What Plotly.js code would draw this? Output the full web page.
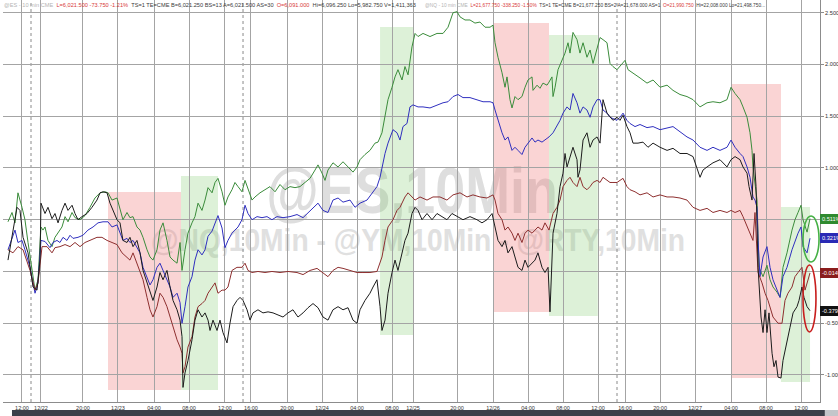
<!DOCTYPE html>
<html><head><meta charset="utf-8">
<script src="https://cdn.plot.ly/plotly-3.0.1.min.js"></script>
<style>
html,body{margin:0;padding:0;background:#fff;overflow:hidden}
#wrap{position:relative;width:838px;height:416px}
#chart{position:absolute;left:0;top:0;width:838px;height:416px;z-index:1}
.wm{position:absolute;z-index:0;white-space:nowrap;line-height:1;font-family:"Liberation Sans",Arial,sans-serif;font-weight:700}
</style>
</head><body><div id="wrap"><div id="wmMain" class="wm"></div><div id="wmSub" class="wm"></div><div id="chart"></div></div>
<script>
// x = trading hours elapsed on the compressed session axis, y = % change
const tickHours = [2.17,4.34,9.14,13.14,17.26,21.26,25.37,28.34,32.46,36.46,40.46,44.46,46.86,51.89,56.00,60.00,64.00,68.00,71.09,75.09,79.09,83.20,87.20,91.20];
const tickLabels = ["12:00","12/22","20:00","12/23","04:00","08:00","12:00","16:00","20:00","12/24","04:00","08:00","12/25","20:00","12/26","04:00","08:00","12:00","16:00","20:00","12/27","04:00","08:00","12:00"];
const sessionBreaks = [3.2, 27.43, 70.17];
const pctTicks = [-1, -0.5, 0, 0.5, 1, 1.5, 2, 2.5];
// 0.000% and 0.500% sit under the last-value flags in the reference
const pctLabels = ["-1.000%","-0.500%","","","1.000%","1.500%","2.000%","2.500%"];

const seriesNames = ["@ES","@NQ","@YM","@RTY"];
const lastValues = [0.511, 0.321, -0.014, -0.379];
const lastLabels = ["0.511%","0.321%","-0.014%","-0.379%"];

// [start h, end h, low %, high %]
const redZones = [[12.00,20.34,-1.145,0.768],[56.00,62.40,-0.391,2.401],[83.20,88.91,-1.029,1.812]];
const greenZones = [[20.34,24.57,-1.145,0.923],[43.09,46.97,-0.614,2.362],[62.40,67.97,-0.430,2.285],[88.91,92.23,-1.068,0.623]];
const greenRing = [91.43,93.26,0.092,0.536];
const redRing = [91.43,92.91,-0.585,0.063];

const headerES = ["@ES - 10 min CME","L=6,021.500 -73.750 -1.21%","TS=1 TE=CME B=6,021.250 BS=13 A=6,021.500 AS=30","O=6,091.000","Hi=6,096.250 Lo=5,982.750 V=1,411,363"];
const headerNQ = ["@NQ - 10 min CME","L=21,677.750 -338.250 -1.50%","TS=1 TE=CME B=21,677.250 BS=2 A=21,678.000 AS=1","O=21,990.750","Hi=22,008.000 Lo=21,498.750..."];
const headerColors = ["#b4b4b4","#d83a3a","#3a3a3a","#d83a3a","#3a3a3a"];
const watermarkMain = "@ES,10Min";
const watermarkSub = "@NQ,10Min - @YM,10Min - @RTY,10Min";

const greenPts = [[0.57,0.48],[1.03,0.57],[1.37,0.47],[1.71,0.76],[2.17,0.62],[2.51,0.50],[2.86,0.28],[3.31,0.01],[3.66,-0.18],[4.00,-0.08],
[4.34,0.43],[4.57,0.40],[4.80,0.43],[5.14,0.30],[5.60,0.24],[5.94,0.33],[6.29,0.37],[6.74,0.43],[7.09,0.53],[7.43,0.48],
[7.89,0.57],[8.23,0.52],[8.80,0.50],[9.37,0.54],[9.94,0.62],[10.51,0.71],[11.09,0.76],[11.66,0.77],[12.00,0.76],[12.46,0.69],
[13.03,0.71],[13.37,0.59],[13.71,0.50],[14.17,0.57],[14.51,0.52],[14.86,0.53],[15.31,0.43],[15.66,0.40],[16.00,0.33],[16.46,0.21],
[16.80,0.14],[17.14,0.11],[17.60,0.21],[17.94,0.40],[18.29,0.47],[18.74,0.30],[19.09,0.14],[19.43,0.11],[19.89,0.08],[20.23,0.28],
[20.46,0.01],[20.80,0.21],[21.14,0.37],[21.60,0.47],[21.94,0.53],[22.29,0.66],[22.74,0.59],[23.09,0.69],[23.43,0.81],[23.89,0.76],
[24.23,0.86],[24.57,0.90],[25.03,0.77],[25.37,0.64],[25.71,0.72],[26.17,0.79],[26.51,0.86],[26.86,0.82],[27.31,0.77],[27.66,0.88],
[28.00,0.79],[28.46,0.69],[28.80,0.72],[29.37,0.76],[29.94,0.79],[30.51,0.82],[31.09,0.77],[31.66,0.84],[32.23,0.79],[32.80,0.82],
[33.37,0.81],[33.94,0.82],[34.51,0.86],[35.09,0.90],[35.66,0.98],[36.00,1.03],[36.46,0.95],[36.80,0.88],[37.14,0.98],[37.71,1.05],
[38.29,1.01],[38.86,1.06],[39.43,1.01],[40.00,0.96],[40.46,1.01],[40.80,1.08],[41.37,1.13],[41.94,1.17],[42.51,1.24],[42.86,1.25],
[43.31,1.34],[43.66,1.49],[44.00,1.66],[44.46,1.78],[44.80,1.88],[45.14,1.95],[45.60,1.85],[45.94,1.98],[46.29,1.90],[46.74,2.17],
[47.09,2.30],[47.43,2.27],[48.00,2.30],[48.80,2.27],[49.60,2.30],[50.29,2.30],[50.86,2.36],[51.43,2.50],[51.89,2.51],[52.23,2.46],
[52.80,2.43],[53.37,2.43],[53.94,2.40],[54.51,2.41],[55.09,2.36],[55.66,2.36],[56.00,2.38],[56.23,2.21],[56.57,2.07],[57.03,1.92],
[57.37,1.78],[57.60,1.88],[57.94,1.66],[58.17,1.58],[58.51,1.69],[58.86,1.66],[59.31,1.69],[59.66,1.78],[60.00,1.85],[60.46,1.88],
[60.57,1.75],[61.03,1.80],[61.37,1.77],[61.71,1.82],[62.17,1.80],[62.40,1.83],[62.74,1.88],[62.86,1.69],[63.09,1.78],[63.43,1.95],
[63.89,2.04],[64.23,2.11],[64.57,2.21],[64.80,2.11],[65.14,2.31],[65.60,2.24],[65.94,2.11],[66.29,2.21],[66.74,2.07],[67.09,2.14],
[67.43,2.01],[67.89,2.14],[68.23,2.26],[68.57,2.24],[69.03,2.21],[69.37,2.01],[69.71,1.98],[70.17,1.95],[70.51,1.98],[71.09,2.04],
[71.43,1.95],[72.00,1.92],[72.80,1.87],[73.60,1.82],[74.29,1.85],[75.09,1.78],[75.89,1.80],[76.57,1.75],[77.37,1.71],[78.17,1.69],
[78.86,1.66],[79.66,1.59],[80.46,1.63],[81.14,1.64],[81.94,1.63],[82.74,1.66],[83.20,1.78],[83.66,1.72],[84.23,1.66],[84.57,1.59],
[85.03,1.49],[85.37,1.34],[85.60,1.17],[85.71,1.01],[86.17,0.69],[86.29,0.37],[86.40,0.04],[86.86,-0.05],[87.31,0.06],[87.66,-0.08],
[88.00,-0.15],[88.46,-0.20],[88.80,-0.25],[89.14,0.04],[89.60,0.18],[90.17,0.40],[90.51,0.50],[90.86,0.57],[91.20,0.64],[91.43,0.50],
[91.89,0.38],[92.23,0.511]];

const bluePts = [[0.57,0.21],[1.03,0.33],[1.37,0.40],[1.71,0.28],[2.17,0.30],[2.51,0.21],[3.09,0.04],[3.66,-0.21],[4.00,-0.11],[4.34,0.30],
[4.80,0.29],[5.37,0.23],[5.71,0.28],[6.17,0.30],[6.51,0.28],[6.86,0.33],[7.31,0.30],[7.66,0.35],[8.00,0.32],[8.57,0.33],
[9.14,0.35],[9.71,0.40],[10.29,0.43],[10.86,0.47],[11.43,0.48],[12.00,0.48],[12.46,0.43],[13.03,0.45],[13.37,0.38],[13.71,0.30],
[14.17,0.32],[14.51,0.28],[14.86,0.30],[15.31,0.24],[15.66,0.18],[16.00,0.04],[16.46,-0.05],[16.80,-0.13],[17.14,-0.08],[17.60,0.04],
[17.94,0.08],[18.29,0.01],[18.74,-0.08],[19.09,-0.15],[19.43,-0.25],[19.89,-0.21],[20.23,-0.30],[20.46,-0.50],[20.80,-0.34],[21.14,-0.15],
[21.60,-0.05],[21.94,0.11],[22.29,0.21],[22.74,0.16],[23.09,0.21],[23.43,0.34],[23.89,0.39],[24.23,0.46],[24.57,0.54],[25.03,0.42],
[25.37,0.23],[25.71,0.30],[26.17,0.37],[26.51,0.40],[26.86,0.43],[27.31,0.50],[27.66,0.64],[28.00,0.56],[28.46,0.50],[29.03,0.53],
[29.60,0.52],[30.17,0.53],[30.74,0.50],[31.31,0.53],[32.00,0.52],[32.80,0.53],[33.60,0.55],[34.29,0.52],[34.86,0.57],[35.43,0.62],
[36.00,0.66],[36.57,0.59],[37.14,0.57],[37.71,0.69],[38.29,0.71],[38.86,0.67],[39.66,0.69],[40.23,0.62],[40.80,0.66],[41.60,0.69],
[42.17,0.76],[42.74,0.82],[43.09,0.91],[43.31,1.01],[43.66,1.14],[44.00,1.24],[44.57,1.37],[45.03,1.34],[45.37,1.27],[45.71,1.40],
[46.17,1.43],[46.51,1.59],[46.86,1.61],[47.43,1.59],[48.00,1.59],[48.80,1.58],[49.60,1.61],[50.29,1.63],[50.86,1.64],[51.43,1.69],
[52.00,1.71],[52.57,1.68],[53.37,1.68],[54.17,1.66],[54.86,1.64],[55.66,1.64],[56.00,1.63],[56.23,1.56],[56.57,1.46],[57.03,1.34],
[57.37,1.27],[57.71,1.30],[58.17,1.17],[58.51,1.20],[58.86,1.17],[59.31,1.13],[59.66,1.20],[60.00,1.24],[60.46,1.29],[60.80,1.25],
[61.14,1.27],[61.60,1.25],[61.94,1.27],[62.40,1.30],[62.86,1.34],[63.31,1.40],[63.66,1.46],[64.00,1.53],[64.46,1.59],[64.80,1.56],
[65.14,1.72],[65.60,1.63],[65.94,1.53],[66.29,1.59],[66.74,1.56],[67.09,1.49],[67.43,1.59],[67.89,1.66],[68.23,1.66],[68.57,1.56],
[69.03,1.53],[69.37,1.49],[69.71,1.48],[70.17,1.46],[70.51,1.49],[70.86,1.53],[71.31,1.46],[71.66,1.43],[72.23,1.40],[72.80,1.42],
[73.60,1.39],[74.29,1.40],[75.09,1.37],[75.89,1.39],[76.57,1.40],[77.37,1.35],[78.17,1.30],[78.86,1.27],[79.66,1.20],[80.46,1.17],
[81.14,1.20],[81.94,1.17],[82.74,1.20],[83.20,1.27],[83.66,1.20],[84.23,1.14],[84.57,1.11],[85.03,1.01],[85.37,0.91],[85.71,0.72],
[85.94,0.69],[86.17,0.62],[86.29,0.30],[86.51,-0.05],[86.86,0.14],[87.31,0.24],[87.66,0.04],[88.00,-0.08],[88.46,-0.18],[88.80,-0.25],
[89.14,-0.05],[89.60,0.04],[90.17,0.21],[90.51,0.30],[90.86,0.37],[91.20,0.43],[91.43,0.24],[91.89,0.18],[92.23,0.321]];

const brownPts = [[0.57,0.21],[1.14,0.18],[1.71,0.24],[2.29,0.21],[3.09,0.01],[3.66,-0.18],[4.00,-0.11],[4.46,0.24],[5.03,0.24],[5.60,0.18],
[5.94,0.23],[6.51,0.24],[7.09,0.26],[7.66,0.24],[8.23,0.28],[8.80,0.24],[9.37,0.28],[9.94,0.30],[10.74,0.33],[11.31,0.33],
[11.89,0.30],[12.46,0.28],[13.03,0.26],[13.60,0.18],[14.17,0.14],[14.51,0.11],[14.86,0.18],[15.31,0.08],[15.66,0.01],[16.00,-0.08],
[16.46,-0.25],[16.80,-0.37],[17.14,-0.44],[17.60,-0.34],[17.94,-0.21],[18.29,-0.25],[18.74,-0.34],[19.09,-0.44],[19.43,-0.54],[19.89,-0.66],
[20.23,-0.73],[20.46,-0.79],[20.57,-0.98],[20.80,-0.92],[21.14,-0.73],[21.60,-0.63],[21.94,-0.44],[22.29,-0.34],[22.74,-0.31],[23.09,-0.28],
[23.43,-0.21],[23.89,-0.15],[24.23,-0.11],[24.57,-0.21],[25.03,-0.18],[25.37,-0.18],[25.71,-0.15],[26.17,0.01],[26.74,0.04],[27.31,0.04],
[27.66,0.08],[28.00,0.01],[28.46,-0.01],[29.14,0.00],[29.94,-0.01],[30.74,0.00],[31.66,-0.01],[32.57,0.00],[33.60,-0.01],[34.29,-0.03],
[35.09,0.01],[35.89,0.03],[36.57,-0.01],[37.14,-0.05],[37.71,0.01],[38.29,0.04],[38.86,0.03],[39.66,0.01],[40.46,-0.01],[41.14,-0.01],
[41.94,-0.01],[42.74,0.00],[43.09,0.08],[43.31,0.14],[43.66,0.30],[44.00,0.43],[44.57,0.50],[45.03,0.59],[45.37,0.62],[45.94,0.72],
[46.29,0.76],[46.74,0.72],[47.09,0.69],[47.66,0.72],[48.46,0.69],[49.14,0.72],[49.94,0.72],[50.74,0.69],[51.43,0.74],[52.23,0.76],
[53.03,0.72],[53.71,0.74],[54.51,0.72],[55.31,0.71],[56.00,0.74],[56.23,0.69],[56.57,0.56],[57.03,0.50],[57.37,0.40],[57.71,0.43],
[58.17,0.37],[58.51,0.30],[58.86,0.37],[59.31,0.28],[59.66,0.37],[60.00,0.40],[60.46,0.37],[60.80,0.40],[61.14,0.43],[61.60,0.40],
[61.94,0.47],[62.40,0.40],[62.86,0.56],[63.31,0.62],[63.66,0.69],[64.00,0.82],[64.46,0.88],[64.80,0.91],[65.14,0.86],[65.60,0.82],
[65.94,0.91],[66.29,0.82],[66.74,0.79],[67.09,0.82],[67.43,0.86],[67.89,0.88],[68.23,0.86],[68.57,0.91],[69.03,0.88],[69.37,0.86],
[69.71,0.86],[70.17,0.86],[70.51,0.88],[70.86,0.90],[71.31,0.82],[71.66,0.79],[72.23,0.77],[72.80,0.74],[73.60,0.76],[74.29,0.72],
[75.09,0.74],[75.89,0.72],[76.57,0.72],[77.37,0.71],[78.17,0.69],[78.86,0.62],[79.66,0.59],[80.46,0.61],[81.14,0.57],[81.94,0.59],
[82.74,0.57],[83.20,0.59],[83.66,0.57],[84.23,0.59],[84.57,0.53],[85.03,0.43],[85.37,0.37],[85.71,0.30],[85.94,0.57],[86.17,0.24],
[86.29,-0.01],[86.74,-0.11],[87.09,-0.21],[87.43,-0.28],[88.00,-0.44],[88.57,-0.50],[89.03,-0.50],[89.37,-0.28],[89.71,-0.21],[90.17,-0.15],
[90.51,-0.05],[90.86,-0.01],[91.31,0.04],[91.66,-0.18],[92.00,-0.08],[92.23,-0.014]];

const blackPts = [[0.57,0.11],[1.03,0.33],[1.60,0.62],[1.94,0.59],[2.29,0.33],[2.86,0.18],[3.43,-0.15],[3.89,-0.18],[4.23,0.11],[4.34,0.66],
[4.80,0.56],[5.14,0.62],[5.60,0.51],[5.94,0.56],[6.29,0.47],[6.74,0.59],[7.09,0.66],[7.43,0.59],[7.89,0.64],[8.23,0.56],
[8.57,0.50],[9.03,0.53],[9.60,0.56],[10.17,0.62],[10.74,0.69],[11.09,0.76],[11.43,0.77],[11.89,0.76],[12.23,0.66],[13.03,0.50],
[13.37,0.47],[13.71,0.30],[14.17,0.28],[14.51,0.33],[14.86,0.24],[15.31,0.30],[15.66,0.18],[16.00,0.01],[16.46,-0.11],[16.80,-0.18],
[17.14,-0.28],[17.60,-0.15],[17.94,-0.01],[18.29,-0.08],[18.74,0.01],[19.09,-0.15],[19.43,-0.28],[19.89,-0.37],[20.23,-0.47],[20.46,-0.63],
[20.57,-1.12],[20.80,-0.98],[21.14,-0.86],[21.60,-0.66],[21.94,-0.47],[22.29,-0.37],[22.74,-0.44],[23.09,-0.40],[23.43,-0.47],[23.66,-0.57],
[24.00,-0.47],[24.46,-0.57],[24.80,-0.47],[25.14,-0.59],[25.60,-0.69],[25.94,-0.50],[26.29,-0.34],[26.74,-0.28],[27.09,-0.25],[27.43,-0.28],
[27.89,-0.37],[28.23,-0.47],[28.57,-0.40],[29.14,-0.37],[29.71,-0.40],[30.29,-0.39],[30.86,-0.40],[31.43,-0.42],[32.00,-0.44],[32.57,-0.40],
[33.14,-0.37],[33.71,-0.44],[34.29,-0.40],[34.86,-0.35],[35.43,-0.31],[36.00,-0.35],[36.57,-0.44],[37.14,-0.47],[37.71,-0.37],[38.29,-0.34],
[38.86,-0.37],[39.43,-0.35],[40.00,-0.47],[40.46,-0.50],[40.80,-0.37],[41.37,-0.28],[41.94,-0.21],[42.29,-0.15],[42.74,-0.08],[43.09,-0.34],
[43.31,-0.57],[43.66,-0.47],[44.00,-0.21],[44.46,-0.01],[44.80,0.11],[45.14,0.01],[45.60,0.18],[45.94,0.30],[46.29,0.37],[46.74,0.56],
[47.09,0.62],[47.43,0.59],[47.89,0.50],[48.46,0.56],[49.03,0.50],[49.60,0.56],[50.17,0.53],[50.74,0.50],[51.31,0.56],[51.89,0.53],
[52.57,0.50],[53.37,0.53],[54.17,0.50],[54.74,0.47],[55.31,0.50],[55.89,0.56],[56.23,0.43],[56.57,0.30],[57.03,0.24],[57.37,0.30],
[57.71,0.18],[58.17,0.24],[58.51,0.14],[58.86,0.04],[59.31,0.01],[59.66,0.11],[60.00,0.04],[60.46,0.08],[60.80,0.11],[61.14,0.18],
[61.60,0.04],[61.94,-0.01],[62.29,0.04],[62.51,-0.39],[62.74,0.04],[62.86,0.37],[63.31,0.56],[63.66,0.82],[64.00,0.95],[64.23,1.14],
[64.46,1.01],[64.80,1.11],[65.14,1.20],[65.60,1.08],[65.71,0.91],[65.94,0.98],[66.29,1.27],[66.74,1.34],[67.09,1.20],[67.43,1.27],
[67.89,1.30],[68.23,1.24],[68.46,1.49],[68.57,1.66],[69.03,1.53],[69.37,1.49],[69.71,1.46],[70.17,1.49],[70.51,1.46],[70.86,1.51],
[71.31,1.40],[71.66,1.34],[72.00,1.24],[72.57,1.24],[73.14,1.25],[73.71,1.20],[74.29,1.24],[75.09,1.20],[75.89,1.17],[76.57,1.19],
[77.37,1.14],[78.17,1.14],[78.86,1.11],[79.66,0.91],[80.00,0.98],[80.46,1.01],[81.14,1.05],[81.94,1.08],[82.74,1.01],[83.20,1.08],
[83.66,1.11],[84.23,1.08],[84.57,1.01],[85.03,0.95],[85.26,0.82],[85.60,0.69],[85.83,1.14],[86.06,0.82],[86.29,0.04],[86.63,-0.44],
[86.86,-0.59],[87.09,-0.37],[87.31,-0.59],[87.54,-0.40],[87.89,-0.79],[88.11,-0.92],[88.34,-0.86],[88.57,-1.02],[88.91,-1.03],[89.14,-0.86],
[89.60,-0.66],[89.94,-0.54],[90.29,-0.40],[90.74,-0.34],[90.97,-0.28],[91.31,-0.15],[91.54,-0.25],[91.89,-0.34],[92.23,-0.379]];

const seriesPts = [greenPts, bluePts, brownPts, blackPts];
const seriesColors = ["#3b8c3b","#2f2fbf","#8e2f2f","#1c1c1c"];
const labelColors = ["#2f8a2f","#2a2ab5","#8a1c1c","#111111"];

const FONT = "Liberation Sans, Arial, sans-serif";

// watermark (real text, behind the transparent plot)
const wm1 = document.getElementById("wmMain");
wm1.textContent = watermarkMain;
Object.assign(wm1.style, {left:"412px", top:"191px", fontSize:"64px", color:"#dedede", transform:"translate(-50%,-50%) scaleX(0.84)"});
const wm2 = document.getElementById("wmSub");
wm2.textContent = watermarkSub;
Object.assign(wm2.style, {left:"418px", top:"240px", fontSize:"31px", color:"#e0e0e0", transform:"translate(-50%,-50%) scaleX(0.91)"});

const traces = seriesPts.map((pts, i) => ({
  type: "scatter", mode: "lines", name: seriesNames[i],
  x: pts.map(p => p[0]), y: pts.map(p => p[1]),
  line: {color: seriesColors[i], width: 1}, hoverinfo: "skip"
}));

const shapes = [];
redZones.forEach(z => shapes.push({type:"rect", xref:"x", yref:"y", x0:z[0], x1:z[1], y0:z[2], y1:z[3], fillcolor:"rgba(240,120,120,0.32)", line:{width:0}, layer:"below"}));
greenZones.forEach(z => shapes.push({type:"rect", xref:"x", yref:"y", x0:z[0], x1:z[1], y0:z[2], y1:z[3], fillcolor:"rgba(120,200,100,0.25)", line:{width:0}, layer:"below"}));
sessionBreaks.forEach(h => shapes.push({type:"line", xref:"x", yref:"paper", x0:h, x1:h, y0:0, y1:1, line:{color:"#8a8a8a", width:1, dash:"dot"}, layer:"below"}));
shapes.push({type:"circle", xref:"x", yref:"y", x0:greenRing[0], x1:greenRing[1], y0:greenRing[2], y1:greenRing[3], line:{color:"#45b045", width:1.6}, layer:"above"});
shapes.push({type:"circle", xref:"x", yref:"y", x0:redRing[0], x1:redRing[1], y0:redRing[2], y1:redRing[3], line:{color:"#c81e1e", width:1.6}, layer:"above"});
shapes.push({type:"rect", xref:"paper", yref:"paper", x0:0.011, x1:1.006, y0:-0.0348, y1:-0.0199, fillcolor:"#3b404a", line:{width:0}, layer:"above"});
shapes.push({type:"rect", xref:"paper", yref:"paper", x0:1.006, x1:1.03, y0:-0.0348, y1:-0.0199, fillcolor:"#c4c6ca", line:{width:0}, layer:"above"});

const PW = 817, L = 3, PH = 402;
function headerHtml(parts){
  return parts.map((t, i) => '<span style="color:' + headerColors[i] + '">' + t + '</span>').join('&nbsp;&nbsp;');
}
const annotations = [
  {text: headerHtml(headerES), xref:"paper", yref:"paper", x:(2-L)/PW, y:1-5/PH, xanchor:"left", yanchor:"middle", showarrow:false, font:{family:FONT, size:5.65}},
  {text: headerHtml(headerNQ), xref:"paper", yref:"paper", x:(423-L)/PW, y:1-5/PH, xanchor:"left", yanchor:"middle", showarrow:false, font:{family:FONT, size:4.8}}
];
lastValues.forEach((v, i) => annotations.push({
  text: lastLabels[i], xref:"paper", yref:"y", x:1.0, y:v, xanchor:"left", yanchor:"middle", showarrow:false,
  bgcolor: labelColors[i], bordercolor: labelColors[i], borderpad:1, font:{family:FONT, size:5.6, color:"#ffffff"}
}));

const layout = {
  width: 838, height: 416,
  margin: {l: L, r: 838-L-PW, t: 0, b: 416-PH},
  paper_bgcolor: "rgba(0,0,0,0)", plot_bgcolor: "rgba(0,0,0,0)",
  showlegend: false,
  font: {family: FONT, color: "#333"},
  xaxis: {range:[0, 93.37], tickmode:"array", tickvals:tickHours, ticktext:tickLabels, showgrid:true, gridcolor:"#a4a4a4", gridwidth:1,
    zeroline:false, showline:true, linecolor:"#8c8c8c", linewidth:1, ticks:"", tickfont:{size:5.5, color:"#333"}, automargin:false, fixedrange:true},
  yaxis: {side:"right", range:[-1.261, 2.623], tickmode:"array", tickvals:pctTicks, ticktext:pctLabels, showgrid:true, gridcolor:"#a4a4a4", gridwidth:1,
    zeroline:false, showline:true, linecolor:"#8c8c8c", linewidth:1, ticks:"outside", ticklen:3, tickcolor:"#8c8c8c",
    tickfont:{size:5.6, color:"#333"}, automargin:false, fixedrange:true},
  shapes: shapes, annotations: annotations
};
Plotly.newPlot("chart", traces, layout, {staticPlot:true, displayModeBar:false});
</script></body></html>
